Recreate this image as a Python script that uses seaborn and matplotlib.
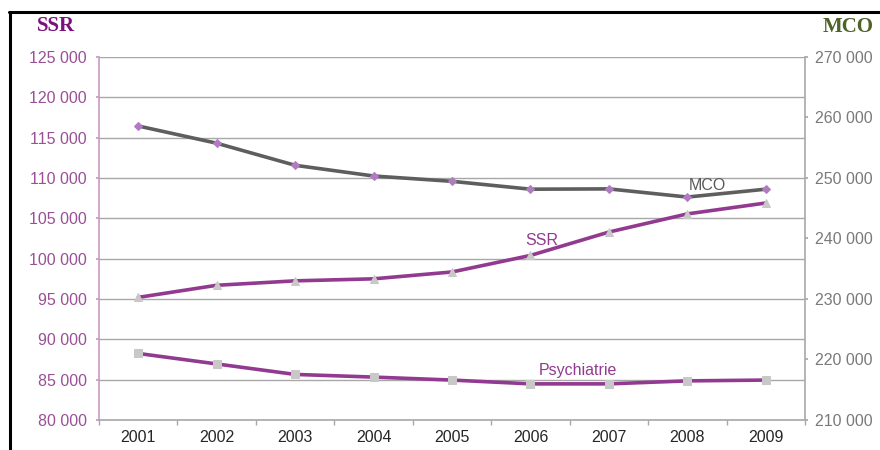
import matplotlib
matplotlib.use("Agg")
import matplotlib.pyplot as plt
import seaborn as sns
import pandas as pd
import numpy as np
from matplotlib.ticker import FuncFormatter, FixedLocator, NullFormatter

years = ["2001", "2002", "2003", "2004", "2005", "2006", "2007", "2008", "2009"]
ssr = [95200, 96700, 97250, 97500, 98350, 100400, 103300, 105550, 106900]
psychiatrie = [88250, 86950, 85650, 85320, 84950, 84480, 84480, 84850, 84950]
mco = [258600, 255750, 252100, 250330, 249450, 248150, 248200, 246850, 248150]

left_ticks = [80000, 85000, 90000, 95000, 100000, 105000, 110000, 115000, 120000, 125000]
right_ticks = [210000, 220000, 230000, 240000, 250000, 260000, 270000]

PURPLE = "#923a8f"
PURPLE_TXT = "#9a4f96"
GREY_LINE = "#5e5e5e"
GRID = "#a8a8a8"

sns.set_theme(style="white")
plt.rcParams["font.family"] = ["Liberation Sans", "DejaVu Sans"]

fig = plt.figure(figsize=(8.8, 4.5), dpi=100)
ax = fig.add_axes([99 / 880, 1 - 420 / 450, (805 - 99) / 880, (420 - 57) / 450])
ax2 = ax.twinx()

df = pd.DataFrame({"year": years, "SSR": ssr, "Psychiatrie": psychiatrie, "MCO": mco})

sns.lineplot(data=df, x="year", y="SSR", ax=ax, color=PURPLE, lw=2.6,
             marker="^", markersize=6, markerfacecolor="#c8c8c8", markeredgecolor="#c8c8c8", zorder=3)
sns.lineplot(data=df, x="year", y="Psychiatrie", ax=ax, color=PURPLE, lw=2.6,
             marker="s", markersize=6, markerfacecolor="#c8c8c8", markeredgecolor="#c8c8c8", zorder=3)
sns.lineplot(data=df, x="year", y="MCO", ax=ax2, color=GREY_LINE, lw=2.6,
             marker="D", markersize=4.5, markerfacecolor="#b07cc0", markeredgecolor="#b07cc0", zorder=3)

fmt = FuncFormatter(lambda v, p: f"{int(v):,}".replace(",", " "))

ax.set_xlim(-0.5, 8.5)
ax.set_ylim(80000, 125000)
ax.set_yticks(left_ticks)
ax.yaxis.set_major_formatter(fmt)
ax.set_xticks(range(len(years)))
ax.set_xticklabels(years)
ax.xaxis.set_minor_locator(FixedLocator(np.arange(-0.5, 9, 1)))
ax.xaxis.set_minor_formatter(NullFormatter())
ax.tick_params(axis="x", which="major", length=0, pad=7, labelsize=11.5, labelcolor="#262626")
ax.tick_params(axis="x", which="minor", length=3.5, color=GRID, direction="out", bottom=True)
ax.tick_params(axis="y", length=2.5, color="#c79bc5", direction="out", left=True,
               labelsize=11.5, labelcolor=PURPLE_TXT, pad=6.5)
ax.grid(axis="y", color=GRID, lw=1)
ax.set_axisbelow(True)
ax.set_xlabel("")
ax.set_ylabel("")

ax2.set_ylim(210000, 270000)
ax2.set_yticks(right_ticks)
ax2.yaxis.set_major_formatter(fmt)
ax2.tick_params(axis="y", length=2.5, color=GRID, direction="out", right=True,
                labelsize=11.5, labelcolor="#7a7a7a", pad=4.5)
ax2.set_ylabel("")
ax2.grid(False)

for a in (ax, ax2):
    for s in a.spines.values():
        s.set_visible(False)
ax.spines["left"].set_visible(True)
ax.spines["left"].set_color("#c79bc5")
ax.spines["left"].set_linewidth(1.2)
ax.spines["bottom"].set_visible(True)
ax.spines["bottom"].set_color(GRID)
ax.spines["bottom"].set_linewidth(1.2)
ax2.spines["right"].set_visible(True)
ax2.spines["right"].set_color(GRID)
ax2.spines["right"].set_linewidth(1.2)

ax2.text(7.26, 248800, "MCO", color="#5a5a5a", fontsize=11.5, ha="center", va="center")
ax.text(5.14, 102300, "SSR", color=PURPLE, fontsize=11.5, ha="center", va="center")
ax.text(5.61, 86100, "Psychiatrie", color=PURPLE, fontsize=11.5, ha="center", va="center")

fig.text(56 / 880, 1 - 26 / 450, "SSR", color="#7b0f7b", fontsize=15, fontweight="bold",
         family=["Liberation Serif", "DejaVu Serif"], ha="center", va="center")
fig.text(848 / 880, 1 - 27 / 450, "MCO", color="#4f6228", fontsize=15, fontweight="bold",
         family=["Liberation Serif", "DejaVu Serif"], ha="center", va="center")

# frame lines (left and top)
fig.add_artist(plt.Line2D([9.5 / 880, 9.5 / 880], [0, 1 - 11.5 / 450], transform=fig.transFigure,
                          color="black", lw=2.2))
fig.add_artist(plt.Line2D([8.5 / 880, 1], [1 - 12 / 450, 1 - 12 / 450], transform=fig.transFigure,
                          color="black", lw=2.2))

fig.savefig("out.png", dpi=100)
